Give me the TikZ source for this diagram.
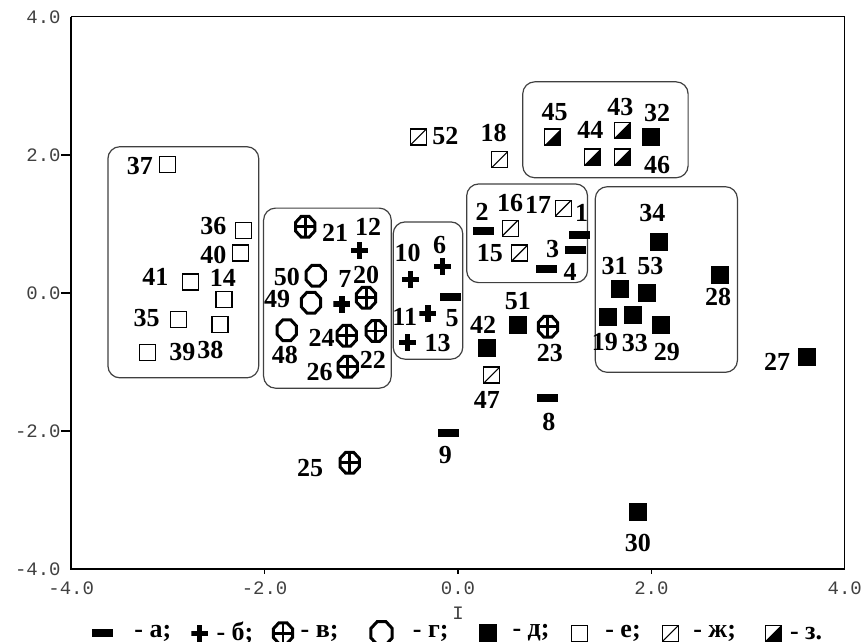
\documentclass[tikz,border=0pt]{standalone}
\usepackage{fontspec}
\setmainfont{Liberation Serif}
\newfontfamily\axisfont{Liberation Mono}
\usepackage{tikz}
\usetikzlibrary{shapes.geometric}

\begin{document}
\begin{tikzpicture}[x=48.35pt,y=34.5pt,
  num/.style={font=\fontsize{13}{15}\selectfont\bfseries,inner sep=0pt},
  leg/.style={num,anchor=west},
  tk/.style={font=\axisfont\fontsize{9.5}{11}\selectfont,text=black!75,inner sep=0pt},
  grp/.style={draw=black!75,line width=0.6pt,rounded corners=6pt},
  mka/.style={rectangle,fill=black,minimum width=10.5pt,minimum height=4pt,inner sep=0pt},
  mkb/.style={rectangle,minimum size=8.5pt,inner sep=0pt,path picture={
    \fill ([yshift=-1.3pt]path picture bounding box.west) rectangle ([yshift=1.3pt]path picture bounding box.east);
    \fill ([xshift=-1.3pt]path picture bounding box.south) rectangle ([xshift=1.3pt]path picture bounding box.north);}},
  mkg/.style={regular polygon,regular polygon sides=8,draw,line width=1.5pt,minimum size=10.4pt,inner sep=0pt,yscale=1.08},
  mkv/.style={mkg,path picture={\draw[line width=1.4pt]
    (path picture bounding box.north) -- (path picture bounding box.south)
    (path picture bounding box.west) -- (path picture bounding box.east);}},
  mkd/.style={rectangle,fill=black,minimum size=9pt,inner sep=0pt},
  mke/.style={rectangle,draw,line width=0.6pt,minimum size=8pt,inner sep=0pt},
  mkzh/.style={mke,path picture={\draw[line width=0.6pt]
    (path picture bounding box.south west) -- (path picture bounding box.north east);}},
  mkz/.style={mke,path picture={\fill (path picture bounding box.south west) --
    (path picture bounding box.north east) -- (path picture bounding box.south east) -- cycle;}}]
\useasboundingbox (-4.736,-5.058) rectangle (4.199,4.246);

\draw[line width=0.5pt] (-4,4) -- (4,4) -- (4,-4);
\draw[line width=1pt] (-4,4) -- (-4,-4) -- (4,-4);
\foreach \t in {-2,0,2} {
  \draw[line width=0.6pt] (-4,\t) -- ++(-5pt,0);
  \draw[line width=0.6pt] (\t,-4) -- ++(0,-2.5pt);
}
\foreach \t/\s in {4/4.0,2/2.0,0/0.0,-2/-2.0,-4/-4.0} {
  \node[tk,anchor=east] (yl\t) at (-4.105,\t) {\s};
  \node[tk] (xl\t) at (\t,-4.28) {\s};
}
\node[tk] (xname) at (0,-4.64) {I};

\draw[grp] (-3.62,2.12) rectangle (-2.06,-1.23);
\draw[grp] (-2.01,1.23) rectangle (-0.69,-1.38);
\draw[grp] (-0.67,1.03) rectangle (0.05,-0.96);
\draw[grp] (0.67,3.06) rectangle (2.38,1.67);
\draw[grp] (0.09,1.58) rectangle (1.34,0.15);
\draw[grp] (1.42,1.54) rectangle (2.89,-1.15);

\node[mka] (m1) at (1.26,0.84) {};   \node[num] (t1) at (1.28,1.16) {1};
\node[mka] (m2) at (0.26,0.90) {};   \node[num] (t2) at (0.25,1.17) {2};
\node[mka] (m3) at (1.22,0.62) {};   \node[num] (t3) at (0.98,0.64) {3};
\node[mka] (m4) at (0.92,0.35) {};   \node[num] (t4) at (1.16,0.30) {4};
\node[mka] (m5) at (-0.08,-0.06) {}; \node[num] (t5) at (-0.06,-0.36) {5};
\node[mka] (m8) at (0.93,-1.52) {};  \node[num] (t8) at (0.94,-1.87) {8};
\node[mka] (m9) at (-0.10,-2.03) {}; \node[num] (t9) at (-0.13,-2.35) {9};

\node[mkb] (m6) at (-0.16,0.38) {};   \node[num] (t6) at (-0.19,0.70) {6};
\node[mkb] (m7) at (-1.20,-0.16) {};  \node[num] (t7) at (-1.17,0.20) {7};
\node[mkb] (m10) at (-0.49,0.19) {};  \node[num] (t10) at (-0.52,0.58) {10};
\node[mkb] (m11) at (-0.31,-0.30) {}; \node[num] (t11) at (-0.55,-0.35) {11};
\node[mkb] (m12) at (-1.02,0.62) {};  \node[num] (t12) at (-0.93,0.96) {12};
\node[mkb] (m13) at (-0.52,-0.72) {}; \node[num] (t13) at (-0.21,-0.72) {13};

\node[mkv] (m20) at (-0.95,-0.07) {}; \node[num] (t20) at (-0.95,0.26) {20};
\node[mkv] (m21) at (-1.58,0.96) {};  \node[num] (t21) at (-1.27,0.87) {21};
\node[mkv] (m22) at (-0.85,-0.55) {}; \node[num] (t22) at (-0.88,-0.97) {22};
\node[mkv] (m23) at (0.93,-0.49) {};  \node[num] (t23) at (0.95,-0.87) {23};
\node[mkv] (m24) at (-1.15,-0.62) {}; \node[num] (t24) at (-1.41,-0.65) {24};
\node[mkv] (m25) at (-1.12,-2.46) {}; \node[num] (t25) at (-1.53,-2.54) {25};
\node[mkv] (m26) at (-1.14,-1.07) {}; \node[num] (t26) at (-1.43,-1.14) {26};

\node[mkg] (m48) at (-1.77,-0.54) {}; \node[num] (t48) at (-1.79,-0.90) {48};
\node[mkg] (m49) at (-1.52,-0.14) {}; \node[num] (t49) at (-1.87,-0.09) {49};
\node[mkg] (m50) at (-1.47,0.25) {};  \node[num] (t50) at (-1.77,0.23) {50};

\node[mkd] (m19) at (1.55,-0.35) {}; \node[num] (t19) at (1.52,-0.71) {19};
\node[mkd] (m27) at (3.61,-0.93) {}; \node[num] (t27) at (3.30,-1.00) {27};
\node[mkd] (m28) at (2.71,0.26) {};  \node[num] (t28) at (2.69,-0.06) {28};
\node[mkd] (m29) at (2.10,-0.46) {}; \node[num] (t29) at (2.16,-0.86) {29};
\node[mkd] (m30) at (1.86,-3.17) {}; \node[num] (t30) at (1.86,-3.62) {30};
\node[mkd] (m31) at (1.68,0.06) {};  \node[num] (t31) at (1.62,0.39) {31};
\node[mkd] (m32) at (2.00,2.26) {};  \node[num] (t32) at (2.06,2.61) {32};
\node[mkd] (m33) at (1.81,-0.32) {}; \node[num] (t33) at (1.83,-0.72) {33};
\node[mkd] (m34) at (2.08,0.74) {};  \node[num] (t34) at (2.01,1.16) {34};
\node[mkd] (m42) at (0.30,-0.80) {}; \node[num] (t42) at (0.26,-0.46) {42};
\node[mkd] (m51) at (0.62,-0.46) {}; \node[num] (t51) at (0.62,-0.12) {51};
\node[mkd] (m53) at (1.95,0.00) {};  \node[num] (t53) at (1.99,0.39) {53};

\node[mke] (m14) at (-2.42,-0.10) {}; \node[num] (t14) at (-2.43,0.22) {14};
\node[mke] (m35) at (-2.89,-0.38) {}; \node[num] (t35) at (-3.22,-0.36) {35};
\node[mke] (m36) at (-2.22,0.90) {};  \node[num] (t36) at (-2.53,0.97) {36};
\node[mke] (m37) at (-3.00,1.86) {};  \node[num] (t37) at (-3.29,1.84) {37};
\node[mke] (m38) at (-2.46,-0.46) {}; \node[num] (t38) at (-2.56,-0.83) {38};
\node[mke] (m39) at (-3.21,-0.86) {}; \node[num] (t39) at (-2.85,-0.86) {39};
\node[mke] (m40) at (-2.25,0.58) {};  \node[num] (t40) at (-2.53,0.55) {40};
\node[mke] (m41) at (-2.77,0.16) {};  \node[num] (t41) at (-3.13,0.23) {41};

\node[mkzh] (m15) at (0.64,0.58) {};  \node[num] (t15) at (0.33,0.58) {15};
\node[mkzh] (m16) at (0.54,0.94) {};  \node[num] (t16) at (0.54,1.30) {16};
\node[mkzh] (m17) at (1.09,1.23) {};  \node[num] (t17) at (0.83,1.28) {17};
\node[mkzh] (m18) at (0.43,1.93) {};  \node[num] (t18) at (0.37,2.32) {18};
\node[mkzh] (m47) at (0.35,-1.19) {}; \node[num] (t47) at (0.30,-1.55) {47};
\node[mkzh] (m52) at (-0.41,2.26) {}; \node[num] (t52) at (-0.13,2.28) {52};

\node[mkz] (m43) at (1.70,2.36) {}; \node[num] (t43) at (1.68,2.70) {43};
\node[mkz] (m44) at (1.39,1.97) {}; \node[num] (t44) at (1.37,2.36) {44};
\node[mkz] (m45) at (0.98,2.26) {}; \node[num] (t45) at (1.00,2.62) {45};
\node[mkz] (m46) at (1.70,1.97) {}; \node[num] (t46) at (2.06,1.86) {46};

\node[mka] (ka) at (-3.68,-4.93) {};  \node[leg] (la) at (-3.35,-4.93) {- а;};
\node[mkb] (kb) at (-2.67,-4.93) {};  \node[leg] (lb) at (-2.50,-4.93) {- б;};
\node[mkv] (kv) at (-1.81,-4.93) {};  \node[leg] (lv) at (-1.63,-4.93) {- в;};
\node[mkg,minimum size=11.5pt] (kg) at (-0.79,-4.93) {}; \node[leg] (lg) at (-0.47,-4.93) {- г;};
\node[mkd] (kd) at (0.31,-4.93) {};   \node[leg] (ld) at (0.56,-4.93) {- д;};
\node[mke] (ke) at (1.26,-4.93) {};   \node[leg] (le) at (1.52,-4.93) {- е;};
\node[mkzh] (kzh) at (2.20,-4.93) {}; \node[leg] (lzh) at (2.43,-4.93) {- ж;};
\node[mkz] (kz) at (3.26,-4.93) {};   \node[leg] (lz) at (3.43,-4.93) {- з.};
\end{tikzpicture}
\end{document}
